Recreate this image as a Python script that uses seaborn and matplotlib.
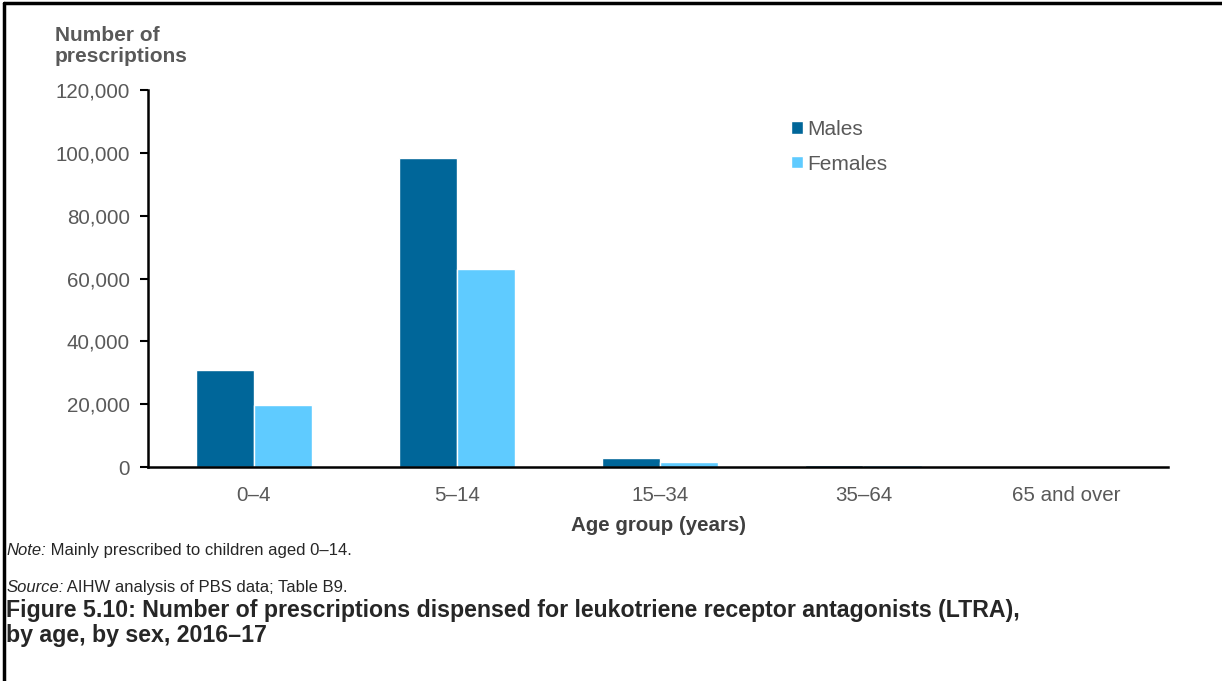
import pandas as pd
import matplotlib.pyplot as plt
import seaborn as sns
from matplotlib.lines import Line2D
from matplotlib.ticker import FuncFormatter

# dados
age_groups = ['0–4', '5–14', '15–34', '35–64', '65 and over']
males = [31000, 98300, 2800, 600, 200]
females = [19900, 63000, 1700, 600, 150]

df = pd.DataFrame({
    'Age group': age_groups * 2,
    'Sex': ['Males'] * 5 + ['Females'] * 5,
    'Prescriptions': males + females,
})

sns.set_style('white')
plt.rcParams['font.family'] = ['Liberation Sans', 'DejaVu Sans']

fig = plt.figure(figsize=(12.22, 6.81), dpi=100)
ax = fig.add_axes([0.121, 0.314, 0.835, 0.554])

sns.barplot(data=df, x='Age group', y='Prescriptions', hue='Sex',
            palette=['#006699', '#5FCBFF'], width=0.572, gap=0,
            saturation=1, ax=ax)

grey = '#595959'
ax.set_ylim(0, 120000)
ax.set_yticks(range(0, 120001, 20000))
ax.yaxis.set_major_formatter(FuncFormatter(lambda v, p: f'{int(v):,}'))
ax.set_xlim(-0.522, 4.5)
ax.tick_params(axis='y', left=True, length=6, width=1.5, colors='black',
               labelcolor=grey, labelsize=14.8, pad=7)
ax.tick_params(axis='x', bottom=False, labelcolor=grey, labelsize=14.8, pad=10)
for s in ['top', 'right']:
    ax.spines[s].set_visible(False)
for s in ['left', 'bottom']:
    ax.spines[s].set_color('black')
    ax.spines[s].set_linewidth(1.8)

ax.set_ylabel('')
ax.set_xlabel('Age group (years)', fontsize=14.8, fontweight='bold',
              color='#404040', labelpad=8)

ax.legend(loc='upper left', bbox_to_anchor=(0.612, 0.97), frameon=False,
          fontsize=15, handlelength=0.55, handleheight=0.55,
          handletextpad=0.25, labelspacing=0.75, labelcolor=grey)

fig.text(0.045, 0.903, 'Number of\nprescriptions', fontsize=15,
         fontweight='bold', color=grey, va='bottom', linespacing=1.12)

note = fig.text(0.005, 0.192, 'Note:', fontsize=12, style='italic',
                va='center')
ax.annotate(' Mainly prescribed to children aged 0–14.', xy=(1, 0.5),
            xycoords=note, fontsize=12, va='center')
source = fig.text(0.005, 0.138, 'Source:', fontsize=12, style='italic',
                  va='center')
ax.annotate(' AIHW analysis of PBS data; Table B9.', xy=(1, 0.5),
            xycoords=source, fontsize=12, va='center')
fig.text(0.005, 0.121,
         'Figure 5.10: Number of prescriptions dispensed for leukotriene '
         'receptor antagonists (LTRA),\nby age, by sex, 2016–17',
         fontsize=16.7, fontweight='bold', va='top', linespacing=1.12)

# moldura (esquerda e topo)
fig.add_artist(Line2D([0.003, 0.003], [0, 0.995], color='black', lw=2.5))
fig.add_artist(Line2D([0.003, 1], [0.995, 0.995], color='black', lw=2.5))

plt.savefig('out.png', dpi=100)
plt.close()
